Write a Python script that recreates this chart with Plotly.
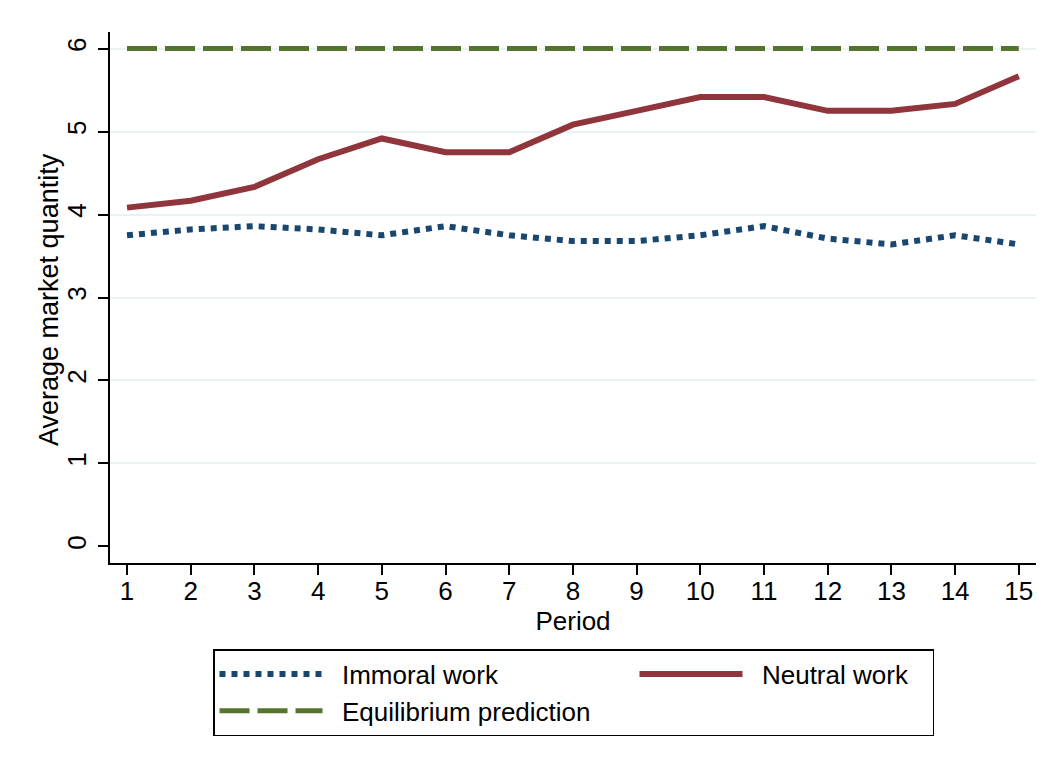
import plotly.graph_objects as go

# data
periods = list(range(1, 16))
immoral = [3.75, 3.82, 3.86, 3.82, 3.75, 3.86, 3.75, 3.68, 3.68, 3.75, 3.86, 3.71, 3.64, 3.75, 3.64]
neutral = [4.083, 4.167, 4.333, 4.667, 4.917, 4.75, 4.75, 5.083, 5.25, 5.417, 5.417, 5.25, 5.25, 5.333, 5.667]
equilibrium = [6] * 15

# page body has an 8px margin, so the figure is drawn 8px smaller and shifted
OFF = 8
W, H = 1053 - OFF, 770 - OFF
L, R, T, B = 110, 1036, 32, 563  # plot area in page pixels

def px(x):
    return (x - L) / (R - L)

def py(y):
    return (B - y) / (B - T)

FONT = "Liberation Sans, Arial, Helvetica, sans-serif"
SP = "\u00a0\u00a0"  # gap between legend key and label

fig = go.Figure()
fig.add_trace(go.Scatter(x=periods, y=immoral, mode="lines", name=SP + "Immoral work",
                         legendwidth=302,
                         line=dict(color="#1a476f", width=6, dash="6px,6px")))
fig.add_trace(go.Scatter(x=periods, y=neutral, mode="lines", name=SP + "Neutral work",
                         legendwidth=180,
                         line=dict(color="#90353b", width=6)))
fig.add_trace(go.Scatter(x=periods, y=equilibrium, mode="lines", name=SP + "Equilibrium prediction",
                         legendwidth=180,
                         line=dict(color="#55752f", width=5, dash="30px,8px")))

axis_font = dict(family=FONT, size=26, color="black")

fig.update_layout(
    width=W, height=H,
    margin=dict(l=L - OFF, r=W - (R - OFF), t=T - OFF, b=H - (B - OFF), pad=0, autoexpand=False),
    paper_bgcolor="white", plot_bgcolor="white",
    font=dict(family=FONT, size=26, color="black"),
    showlegend=True,
    legend=dict(orientation="h", x=px(213), y=py(649), xanchor="left", yanchor="top",
                bordercolor="black", borderwidth=1.5, bgcolor="white",
                itemwidth=103, font=dict(size=26), traceorder="normal"),
    xaxis=dict(range=[0.733, 15.27], tickvals=periods, showgrid=False, zeroline=False,
               showline=True, linecolor="black", linewidth=1.5,
               ticks="outside", ticklen=10, tickwidth=1.5, tickcolor="black",
               tickfont=axis_font, automargin=False, ticklabelstandoff=-6,
               title=dict(text="Period", standoff=4, font=axis_font)),
    yaxis=dict(range=[-0.2, 6.2], tickvals=[0, 1, 2, 3, 4, 5, 6], tickangle=-90,
               showgrid=True, gridcolor="#eaf2f3", gridwidth=1.5,
               zeroline=True, zerolinecolor="white",
               showline=True, linecolor="black", linewidth=1.5,
               ticks="outside", ticklen=10, tickwidth=1.5, tickcolor="black",
               tickfont=axis_font, automargin=False, ticklabelstandoff=2),
    annotations=[dict(text="Average market quantity", xref="paper", yref="paper",
                      x=px(49), y=py(300), xanchor="center", yanchor="middle",
                      textangle=-90, showarrow=False,
                      font=dict(family=FONT, size=27, color="black"))],
    shapes=[dict(type="rect", xref="paper", yref="paper",
                 x0=px(6), x1=px(1070), y0=py(5), y1=py(800),
                 line=dict(color="#eaf2f3", width=2), layer="below")],
)

fig.write_html("out.html")
